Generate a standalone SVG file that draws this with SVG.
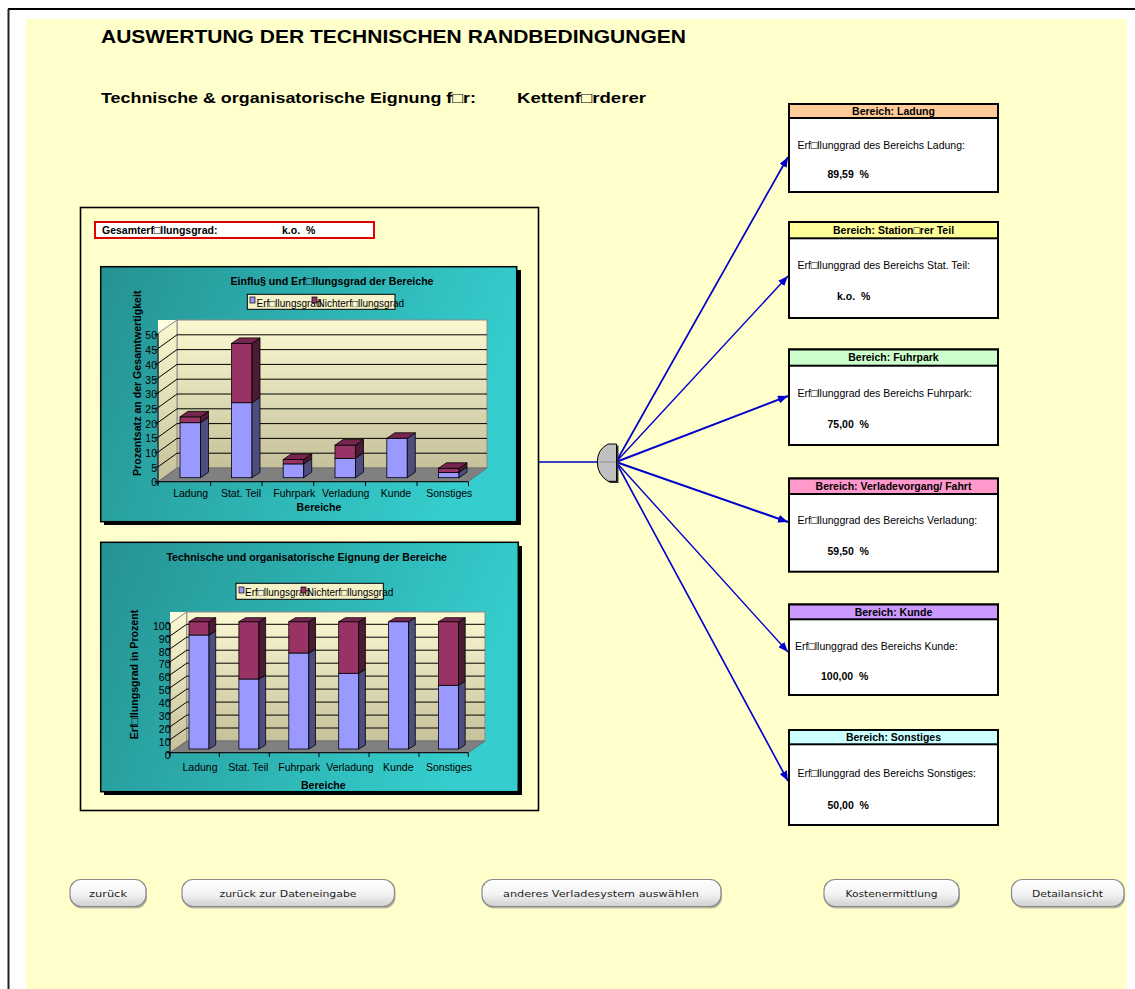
<svg xmlns="http://www.w3.org/2000/svg" width="1135" height="989" viewBox="0 0 1135 989">
  <style>
    text { font-family: "Liberation Sans", Arial, "DejaVu Sans", sans-serif; fill: #000; }
    .b { font-weight: bold; }
    .s9 { font-size: 10.5px; }
    .s10 { font-size: 10px; }
    .ax { font-size: 10.5px; }
    .ttl { font-size: 10.6px; font-weight: bold; }
    .btxt { font-family: "DejaVu Sans", "Liberation Sans", sans-serif; font-size: 9px; fill: #222; }
    .mid { text-anchor: middle; }
    .end { text-anchor: end; }
    .erf { fill: #9999FF; stroke: #000; stroke-width: 0.8; }
    .erfS { fill: #4D4D80; stroke: #000; stroke-width: 0.8; }
    .nerf { fill: #993366; stroke: #000; stroke-width: 0.8; }
    .nerfS { fill: #4D1A33; stroke: #000; stroke-width: 0.8; }
    .top { fill: #772650; stroke: #000; stroke-width: 0.8; }
    .grid { stroke: #000; stroke-width: 1; fill: none; }
    .frame { fill: url(#teal); stroke: #000; stroke-width: 1.5; }
    .shadow { fill: #000; }
    .box { fill: #fff; stroke: #000; stroke-width: 2; }
    .hdr { stroke: #000; stroke-width: 2; }
    .btn { fill: url(#btnGrad); stroke: #8a8a8a; stroke-width: 1.2; }
    .btnSh { fill: #b8b8a0; }
    .conn { stroke: #0000CC; fill: none; }
  </style>
  <defs>
    <linearGradient id="teal" x1="0" y1="0" x2="1" y2="0.25">
      <stop offset="0" stop-color="#259292"/>
      <stop offset="1" stop-color="#35CDCD"/>
    </linearGradient>
    <linearGradient id="wall" x1="0" y1="0" x2="0" y2="1">
      <stop offset="0" stop-color="#FBF8D2"/>
      <stop offset="1" stop-color="#C6C19B"/>
    </linearGradient>
    <linearGradient id="btnGrad" x1="0" y1="0" x2="0" y2="1">
      <stop offset="0" stop-color="#FFFFFF"/>
      <stop offset="0.55" stop-color="#F3F3F3"/>
      <stop offset="1" stop-color="#CFCFCF"/>
    </linearGradient>
    <marker id="arrow" markerUnits="userSpaceOnUse" markerWidth="11" markerHeight="8" refX="10" refY="4" orient="auto">
      <path d="M0,0 L10,4 L0,8 Z" fill="#0000CC"/>
    </marker>
  </defs>

  <!-- page -->
  <rect x="0" y="0" width="1135" height="989" fill="#fff"/>
  <rect x="26" y="19" width="1101" height="970" fill="#FFFFCC"/>
  <line x1="8" y1="9" x2="1135" y2="9" stroke="#000" stroke-width="2"/>
  <line x1="8.5" y1="9" x2="8.5" y2="989" stroke="#222" stroke-width="2"/>

  <!-- headings -->
  <text class="b" x="101" y="43" font-size="18.5" textLength="585" lengthAdjust="spacingAndGlyphs">AUSWERTUNG DER TECHNISCHEN RANDBEDINGUNGEN</text>
  <text class="b" x="101" y="103" font-size="15" textLength="375" lengthAdjust="spacingAndGlyphs">Technische &amp; organisatorische Eignung f□r:</text>
  <text class="b" x="517" y="103" font-size="15" textLength="129" lengthAdjust="spacingAndGlyphs">Kettenf□rderer</text>

  <!-- summary panel -->
  <g id="panel">
    <rect x="80.5" y="207.5" width="458" height="603" fill="#FFFFCC" stroke="#000" stroke-width="1.6"/>
    <rect x="95" y="222" width="279" height="16" fill="#fff" stroke="#E00000" stroke-width="2"/>
    <text class="b s9" x="102" y="234">Gesamterf□llungsgrad:</text>
    <text class="b s9" x="282" y="234" xml:space="preserve">k.o.  %</text>
  </g>

  <!-- chart: Einfluss und Erfuellungsgrad -->
  <g id="chart-einfluss">
    <rect class="shadow" x="104" y="270" width="417" height="255"/>
    <rect class="frame" x="100.7" y="266.7" width="416" height="255"/>
    <text class="ttl mid" x="332" y="285">Einflu§ und Erf□llungsgrad der Bereiche</text>
    <rect x="247.3" y="294.3" width="147.7" height="15" fill="#F4F2C8" stroke="#000" stroke-width="1"/>
    <rect x="250" y="297" width="5" height="6" fill="#9999FF" stroke="#000" stroke-width="0.7"/>
    <text class="s10" x="256.5" y="306.5">Erf□llungsgrad</text>
    <rect x="312" y="297" width="5" height="6" fill="#993366" stroke="#000" stroke-width="0.7"/>
    <text class="s10" x="317.5" y="306.5">Nichterf□llungsgrad</text>
    <text class="ttl mid" transform="translate(140.5,383.3) rotate(-90)">Prozentsatz an der Gesamtwertigkeit</text>

    <!-- walls and floor -->
    <polygon points="158,320 177,320 158,333.3" fill="#FFFFE0"/>
    <rect x="177" y="320" width="310" height="148" fill="url(#wall)" stroke="#8a8a8a" stroke-width="1"/>
    <polygon points="158,333.3 177,320 177,468 158,481.7" fill="url(#wall)" stroke="#8a8a8a" stroke-width="1"/>
    <polygon points="158,481.7 177,468 487,468 468,481.7" fill="#808080" stroke="#666" stroke-width="0.8"/>
    <path class="grid" d="M177,453.2H487 M177,438.4H487 M177,423.6H487 M177,408.8H487 M177,394H487 M177,379.2H487 M177,364.4H487 M177,349.6H487 M177,334.8H487
      M158,466.9L177,453.2 M158,452.1L177,438.4 M158,437.3L177,423.6 M158,422.5L177,408.8 M158,407.7L177,394 M158,392.9L177,379.2 M158,378.1L177,364.4 M158,363.3L177,349.6 M158,348.5L177,334.8"/>
    <path class="grid" d="M158,333.3V484 M158,481.7H468 M158,481.7V486 M210.7,481.7V486 M262,481.7V486 M313.7,481.7V486 M365.5,481.7V486 M417,481.7V486 M468.5,481.7V486
      M154.5,481.7H158 M154.5,467H158 M154.5,452.3H158 M154.5,437.6H158 M154.5,422.9H158 M154.5,408.2H158 M154.5,393.5H158 M154.5,378.8H158 M154.5,364.1H158 M154.5,349.4H158 M154.5,334.7H158"/>

    <!-- y axis labels -->
    <g class="ax">
      <text class="end" x="157" y="486.4">0</text>
      <text class="end" x="157" y="471.7">5</text>
      <text class="end" x="157" y="457">10</text>
      <text class="end" x="157" y="442.3">15</text>
      <text class="end" x="157" y="427.6">20</text>
      <text class="end" x="157" y="412.9">25</text>
      <text class="end" x="157" y="398.2">30</text>
      <text class="end" x="157" y="383.5">35</text>
      <text class="end" x="157" y="368.8">40</text>
      <text class="end" x="157" y="354.1">45</text>
      <text class="end" x="157" y="339.4">50</text>
    </g>

    <!-- bars -->
    <rect class="erf" x="180" y="422.7" width="20.5" height="55"/>
    <polygon class="erfS" points="200.5,477.7 208.5,472.2 208.5,417.2 200.5,422.7"/>
    <rect class="nerf" x="180" y="416.8" width="20.5" height="5.9"/>
    <polygon class="nerfS" points="200.5,422.7 208.5,417.2 208.5,411.3 200.5,416.8"/>
    <polygon class="top" points="180,416.8 188,411.3 208.5,411.3 200.5,416.8"/>

    <rect class="erf" x="231.5" y="402.7" width="20.5" height="75"/>
    <polygon class="erfS" points="252,477.7 260,472.2 260,397.2 252,402.7"/>
    <rect class="nerf" x="231.5" y="343.4" width="20.5" height="59.3"/>
    <polygon class="nerfS" points="252,402.7 260,397.2 260,337.9 252,343.4"/>
    <polygon class="top" points="231.5,343.4 239.5,337.9 260,337.9 252,343.4"/>

    <rect class="erf" x="283.2" y="463.9" width="20.5" height="13.8"/>
    <polygon class="erfS" points="303.7,477.7 311.7,472.2 311.7,458.4 303.7,463.9"/>
    <rect class="nerf" x="283.2" y="459.5" width="20.5" height="4.4"/>
    <polygon class="nerfS" points="303.7,463.9 311.7,458.4 311.7,454 303.7,459.5"/>
    <polygon class="top" points="283.2,459.5 291.2,454 311.7,454 303.7,459.5"/>

    <rect class="erf" x="335" y="458.3" width="20.5" height="19.4"/>
    <polygon class="erfS" points="355.5,477.7 363.5,472.2 363.5,452.8 355.5,458.3"/>
    <rect class="nerf" x="335" y="445.1" width="20.5" height="13.2"/>
    <polygon class="nerfS" points="355.5,458.3 363.5,452.8 363.5,439.6 355.5,445.1"/>
    <polygon class="top" points="335,445.1 343,439.6 363.5,439.6 355.5,445.1"/>

    <rect class="erf" x="386.8" y="438.3" width="20.5" height="39.4"/>
    <polygon class="erfS" points="407.3,477.7 415.3,472.2 415.3,432.8 407.3,438.3"/>
    <polygon class="top" points="386.8,438.3 394.8,432.8 415.3,432.8 407.3,438.3"/>

    <rect class="erf" x="438.5" y="472.4" width="20.5" height="5.3"/>
    <polygon class="erfS" points="459,477.7 467,472.2 467,466.9 459,472.4"/>
    <rect class="nerf" x="438.5" y="468.3" width="20.5" height="4.1"/>
    <polygon class="nerfS" points="459,472.4 467,466.9 467,462.8 459,468.3"/>
    <polygon class="top" points="438.5,468.3 446.5,462.8 467,462.8 459,468.3"/>

    <!-- x axis labels -->
    <g class="ax mid">
      <text x="190.7" y="497.3">Ladung</text>
      <text x="241" y="497.3">Stat. Teil</text>
      <text x="294.3" y="497.3">Fuhrpark</text>
      <text x="345.7" y="497.3">Verladung</text>
      <text x="396" y="497.3">Kunde</text>
      <text x="449.3" y="497.3">Sonstiges</text>
    </g>
    <text class="ttl mid" x="319" y="511">Bereiche</text>
  </g>

  <!-- chart: Eignung der Bereiche -->
  <g id="chart-eignung">
    <rect class="shadow" x="104" y="546" width="418" height="249"/>
    <rect class="frame" x="100.7" y="542.3" width="417.6" height="249.4"/>
    <text class="ttl mid" x="306.7" y="561">Technische und organisatorische Eignung der Bereiche</text>
    <rect x="236" y="583.3" width="147.3" height="16" fill="#F4F2C8" stroke="#000" stroke-width="1"/>
    <rect x="239" y="587" width="5" height="6" fill="#9999FF" stroke="#000" stroke-width="0.7"/>
    <text class="s10" x="245" y="595.5">Erf□llungsgrad</text>
    <rect x="301" y="587" width="5" height="6" fill="#993366" stroke="#000" stroke-width="0.7"/>
    <text class="s10" x="306.7" y="595.5">Nichterf□llungsgrad</text>
    <text class="ttl mid" transform="translate(137.8,674.5) rotate(-90)">Erf□llungsgrad in Prozent</text>

    <!-- walls and floor -->
    <polygon points="170,612 186.7,612 170,623.7" fill="#FFFFE0"/>
    <rect x="186.7" y="612" width="298.3" height="129" fill="url(#wall)" stroke="#8a8a8a" stroke-width="1"/>
    <polygon points="170,623.7 186.7,612 186.7,741 170,752.7" fill="url(#wall)" stroke="#8a8a8a" stroke-width="1"/>
    <polygon points="170,752.7 186.7,741 485,741 468.3,752.7" fill="#808080" stroke="#666" stroke-width="0.8"/>
    <path class="grid" d="M186.7,728H485 M186.7,715.1H485 M186.7,702.1H485 M186.7,689.1H485 M186.7,676.1H485 M186.7,663.2H485 M186.7,650.2H485 M186.7,637.2H485 M186.7,624.3H485
      M170,739.7L186.7,728 M170,726.8L186.7,715.1 M170,713.8L186.7,702.1 M170,700.8L186.7,689.1 M170,687.8L186.7,676.1 M170,674.9L186.7,663.2 M170,661.9L186.7,650.2 M170,648.9L186.7,637.2 M170,636L186.7,624.3"/>
    <path class="grid" d="M170,623.7V755 M170,752.7H468.3 M170,752.7V757 M219.3,752.7V757 M269.3,752.7V757 M319,752.7V757 M369,752.7V757 M419,752.7V757 M468.3,752.7V757
      M166.5,752.7H170 M166.5,739.8H170 M166.5,726.9H170 M166.5,714H170 M166.5,701.1H170 M166.5,688.2H170 M166.5,675.3H170 M166.5,662.4H170 M166.5,649.5H170 M166.5,636.6H170 M166.5,623.7H170"/>

    <!-- y axis labels -->
    <g class="ax">
      <text class="end" x="170.5" y="758.7">0</text>
      <text class="end" x="170.5" y="745.8">10</text>
      <text class="end" x="170.5" y="732.9">20</text>
      <text class="end" x="170.5" y="720">30</text>
      <text class="end" x="170.5" y="707.1">40</text>
      <text class="end" x="170.5" y="694.2">50</text>
      <text class="end" x="170.5" y="681.3">60</text>
      <text class="end" x="170.5" y="668.4">70</text>
      <text class="end" x="170.5" y="655.5">80</text>
      <text class="end" x="170.5" y="642.6">90</text>
      <text class="end" x="170.5" y="629.7">100</text>
    </g>

    <!-- bars -->
    <rect class="erf" x="189" y="635" width="20" height="114"/>
    <polygon class="erfS" points="209,749 215.7,745 215.7,631 209,635"/>
    <rect class="nerf" x="189" y="621.7" width="20" height="13.3"/>
    <polygon class="nerfS" points="209,635 215.7,631 215.7,617.7 209,621.7"/>
    <polygon class="top" points="189,621.7 195.7,617.7 215.7,617.7 209,621.7"/>

    <rect class="erf" x="238.9" y="679" width="20" height="70"/>
    <polygon class="erfS" points="258.9,749 265.6,745 265.6,675 258.9,679"/>
    <rect class="nerf" x="238.9" y="621.7" width="20" height="57.3"/>
    <polygon class="nerfS" points="258.9,679 265.6,675 265.6,617.7 258.9,621.7"/>
    <polygon class="top" points="238.9,621.7 245.6,617.7 265.6,617.7 258.9,621.7"/>

    <rect class="erf" x="288.8" y="653" width="20" height="96"/>
    <polygon class="erfS" points="308.8,749 315.5,745 315.5,649 308.8,653"/>
    <rect class="nerf" x="288.8" y="621.7" width="20" height="31.3"/>
    <polygon class="nerfS" points="308.8,653 315.5,649 315.5,617.7 308.8,621.7"/>
    <polygon class="top" points="288.8,621.7 295.5,617.7 315.5,617.7 308.8,621.7"/>

    <rect class="erf" x="338.7" y="673.3" width="20" height="75.7"/>
    <polygon class="erfS" points="358.7,749 365.4,745 365.4,669.3 358.7,673.3"/>
    <rect class="nerf" x="338.7" y="621.7" width="20" height="51.6"/>
    <polygon class="nerfS" points="358.7,673.3 365.4,669.3 365.4,617.7 358.7,621.7"/>
    <polygon class="top" points="338.7,621.7 345.4,617.7 365.4,617.7 358.7,621.7"/>

    <rect class="erf" x="388.6" y="621.7" width="20" height="127.3"/>
    <polygon class="erfS" points="408.6,749 415.3,745 415.3,617.7 408.6,621.7"/>
    <polygon class="top" points="388.6,621.7 395.3,617.7 415.3,617.7 408.6,621.7"/>

    <rect class="erf" x="438.5" y="685.3" width="20" height="63.7"/>
    <polygon class="erfS" points="458.5,749 465.2,745 465.2,681.3 458.5,685.3"/>
    <rect class="nerf" x="438.5" y="621.7" width="20" height="63.6"/>
    <polygon class="nerfS" points="458.5,685.3 465.2,681.3 465.2,617.7 458.5,621.7"/>
    <polygon class="top" points="438.5,621.7 445.2,617.7 465.2,617.7 458.5,621.7"/>

    <!-- x axis labels -->
    <g class="ax mid">
      <text x="200" y="770.5">Ladung</text>
      <text x="248.3" y="770.5">Stat. Teil</text>
      <text x="299.3" y="770.5">Fuhrpark</text>
      <text x="350" y="770.5">Verladung</text>
      <text x="398.3" y="770.5">Kunde</text>
      <text x="449" y="770.5">Sonstiges</text>
    </g>
    <text class="ttl mid" x="323.3" y="789">Bereiche</text>
  </g>

  <!-- connectors -->
  <g id="connectors">
    <line class="conn" x1="539" y1="462" x2="598" y2="462" stroke-width="1.6"/>
    <line class="conn" x1="616" y1="462" x2="788" y2="157" stroke-width="1.7" marker-end="url(#arrow)"/>
    <line class="conn" x1="616" y1="462" x2="788" y2="276" stroke-width="1.4" marker-end="url(#arrow)"/>
    <line class="conn" x1="616" y1="462" x2="788" y2="396" stroke-width="2" marker-end="url(#arrow)"/>
    <line class="conn" x1="616" y1="462" x2="788" y2="522" stroke-width="2" marker-end="url(#arrow)"/>
    <line class="conn" x1="616" y1="462" x2="788" y2="652" stroke-width="1.4" marker-end="url(#arrow)"/>
    <line class="conn" x1="616" y1="462" x2="788" y2="781" stroke-width="1.6" marker-end="url(#arrow)"/>
  </g>

  <!-- hub -->
  <g id="hub">
    <path d="M618.5,445.5 L610,445.5 Q599.5,451 599.5,463.5 Q599.5,476 610,483 L618.5,483 Z" fill="#333"/>
    <path d="M616.5,444 L608,444 Q597.3,449.5 597.3,462 Q597.3,474.5 608,481.3 L616.5,481.3 Z" fill="#C0C0C0" stroke="#000" stroke-width="1"/>
    <line x1="598" y1="462" x2="616" y2="462" stroke="#888" stroke-width="0.8"/>
  </g>

  <!-- area boxes -->
  <g id="box-ladung">
    <rect class="box" x="789" y="104" width="209" height="88"/>
    <rect class="hdr" x="789" y="104" width="209" height="14" fill="#FFCC99"/>
    <text class="b s9 mid" x="893.5" y="115">Bereich: Ladung</text>
    <text class="s9" x="797.5" y="148.7">Erf□llunggrad des Bereichs Ladung:</text>
    <text class="b s9" x="827.5" y="177.7" xml:space="preserve">89,59  %</text>
  </g>
  <g id="box-stationaer">
    <rect class="box" x="789" y="222" width="209" height="96"/>
    <rect class="hdr" x="789" y="222" width="209" height="16.3" fill="#FFFF99"/>
    <text class="b s9 mid" x="893.5" y="234">Bereich: Station□rer Teil</text>
    <text class="s9" x="797.5" y="269.2">Erf□llunggrad des Bereichs Stat. Teil:</text>
    <text class="b s9" x="837" y="300.2" xml:space="preserve">k.o.  %</text>
  </g>
  <g id="box-fuhrpark">
    <rect class="box" x="789" y="349.5" width="209" height="95.5"/>
    <rect class="hdr" x="789" y="349.5" width="209" height="16.2" fill="#CCFFCC"/>
    <text class="b s9 mid" x="893.5" y="361.3">Bereich: Fuhrpark</text>
    <text class="s9" x="797.5" y="397.2">Erf□llunggrad des Bereichs Fuhrpark:</text>
    <text class="b s9" x="827.5" y="428.2" xml:space="preserve">75,00  %</text>
  </g>
  <g id="box-verladung">
    <rect class="box" x="789" y="478.5" width="209" height="93.2"/>
    <rect class="hdr" x="789" y="478.5" width="209" height="15.5" fill="#FF99CC"/>
    <text class="b s9 mid" x="893.5" y="489.8">Bereich: Verladevorgang/ Fahrt</text>
    <text class="s9" x="797.5" y="523.7">Erf□llunggrad des Bereichs Verladung:</text>
    <text class="b s9" x="827.5" y="555.2" xml:space="preserve">59,50  %</text>
  </g>
  <g id="box-kunde">
    <rect class="box" x="789" y="604.5" width="209" height="90.5"/>
    <rect class="hdr" x="789" y="604.5" width="209" height="14.8" fill="#CC99FF"/>
    <text class="b s9 mid" x="893.5" y="615.8">Bereich: Kunde</text>
    <text class="s9" x="795" y="650.2">Erf□llunggrad des Bereichs Kunde:</text>
    <text class="b s9" x="821" y="679.7" xml:space="preserve">100,00  %</text>
  </g>
  <g id="box-sonstiges">
    <rect class="box" x="789" y="730" width="209" height="95"/>
    <rect class="hdr" x="789" y="730" width="209" height="14.3" fill="#CCFFFF"/>
    <text class="b s9 mid" x="893.5" y="741">Bereich: Sonstiges</text>
    <text class="s9" x="797.5" y="777.2">Erf□llunggrad des Bereichs Sonstiges:</text>
    <text class="b s9" x="827.5" y="808.7" xml:space="preserve">50,00  %</text>
  </g>

  <!-- buttons -->
  <g id="btn-zurueck">
    <rect class="btnSh" x="71" y="881" width="76" height="27.5" rx="11"/>
    <rect class="btn" x="70" y="879.5" width="76" height="27" rx="11"/>
    <text class="btxt mid" x="108" y="896.5" textLength="38" lengthAdjust="spacingAndGlyphs">zurück</text>
  </g>
  <g id="btn-dateneingabe">
    <rect class="btnSh" x="183" y="881" width="212.5" height="27.5" rx="11"/>
    <rect class="btn" x="182" y="879.5" width="212.5" height="27" rx="11"/>
    <text class="btxt mid" x="288" y="896.5" textLength="137" lengthAdjust="spacingAndGlyphs">zurück zur Dateneingabe</text>
  </g>
  <g id="btn-verladesystem">
    <rect class="btnSh" x="483" y="881" width="239" height="27.5" rx="11"/>
    <rect class="btn" x="482" y="879.5" width="239" height="27" rx="11"/>
    <text class="btxt mid" x="601" y="896.5" textLength="196" lengthAdjust="spacingAndGlyphs">anderes Verladesystem auswählen</text>
  </g>
  <g id="btn-kosten">
    <rect class="btnSh" x="825" y="881" width="135" height="27.5" rx="11"/>
    <rect class="btn" x="824" y="879.5" width="135" height="27" rx="11"/>
    <text class="btxt mid" x="891.5" y="896.5" textLength="92" lengthAdjust="spacingAndGlyphs">Kostenermittlung</text>
  </g>
  <g id="btn-detail">
    <rect class="btnSh" x="1012.5" y="881" width="112.5" height="27.5" rx="11"/>
    <rect class="btn" x="1011.5" y="879.5" width="112.5" height="27" rx="11"/>
    <text class="btxt mid" x="1067.5" y="896.5" textLength="71" lengthAdjust="spacingAndGlyphs">Detailansicht</text>
  </g>
</svg>
